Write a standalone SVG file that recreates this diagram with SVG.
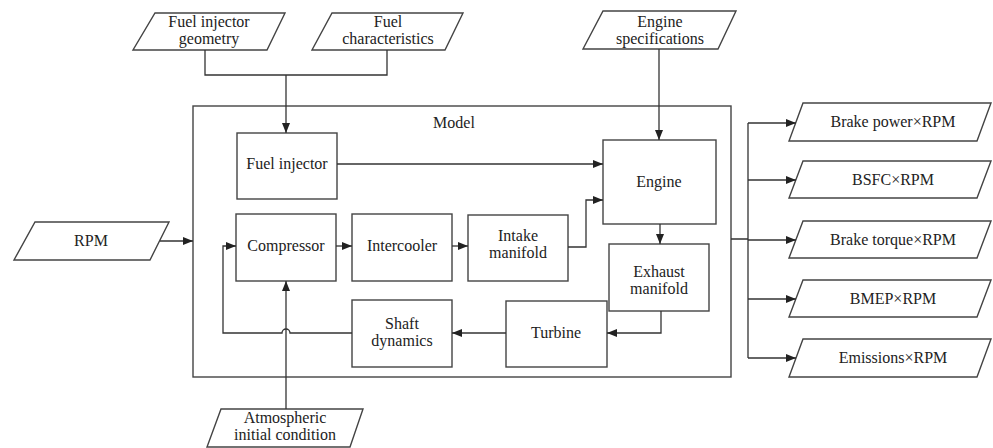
<svg xmlns="http://www.w3.org/2000/svg" width="993" height="448" viewBox="0 0 993 448">
<defs>
<marker id="ah" viewBox="0 0 10 8" refX="10" refY="4" markerWidth="10" markerHeight="8" markerUnits="userSpaceOnUse" orient="auto">
<path d="M0,0 L10,4 L0,8 z" fill="#222"/>
</marker>
<style>
.n{fill:#fff;stroke:#444;stroke-width:1.4}
.c{fill:none;stroke:#333;stroke-width:1.3}
.a{marker-end:url(#ah)}
text{font-family:'Liberation Serif','DejaVu Serif','Noto Serif',Times,serif;font-size:16px;fill:#222;text-anchor:middle}
</style>
</defs>
<rect width="993" height="448" fill="#fff"/>
<g id="model"><rect class="n" x="193" y="106" width="538" height="271"/><text x="454" y="128">Model</text></g>
<g id="fuel-injector-geometry"><polygon class="n" points="155,13 285,13 267,50 133,50"/><text x="209" y="27">Fuel injector</text><text x="209" y="44">geometry</text></g>
<g id="fuel-characteristics"><polygon class="n" points="332,13 463,13 445,50 312,50"/><text x="388" y="27">Fuel</text><text x="388" y="44">characteristics</text></g>
<g id="engine-specifications"><polygon class="n" points="603,11 736,11 718,49 583,49"/><text x="660" y="27">Engine</text><text x="660" y="44">specifications</text></g>
<g id="rpm"><polygon class="n" points="35,222 169,222 150,260 14,260"/><text x="91" y="246">RPM</text></g>
<g id="atmospheric"><polygon class="n" points="221,409 363,409 350,447 207,447"/><text x="285" y="423">Atmospheric</text><text x="285" y="440">initial condition</text></g>
<g id="fuel-injector"><rect class="n" x="237" y="133" width="100" height="66"/><text x="287" y="169">Fuel injector</text></g>
<g id="compressor"><rect class="n" x="236" y="214" width="100" height="67"/><text x="286" y="251">Compressor</text></g>
<g id="intercooler"><rect class="n" x="352" y="214" width="100" height="67"/><text x="402" y="251">Intercooler</text></g>
<g id="intake-manifold"><rect class="n" x="468" y="215" width="100" height="66"/><text x="518" y="241">Intake</text><text x="518" y="258">manifold</text></g>
<g id="engine"><rect class="n" x="603" y="140" width="113" height="84"/><text x="659" y="187">Engine</text></g>
<g id="exhaust-manifold"><rect class="n" x="609" y="244" width="100" height="67"/><text x="659" y="277">Exhaust</text><text x="659" y="294">manifold</text></g>
<g id="turbine"><rect class="n" x="506" y="301" width="101" height="66"/><text x="556" y="338">Turbine</text></g>
<g id="shaft-dynamics"><rect class="n" x="352" y="300" width="100" height="67"/><text x="402" y="329">Shaft</text><text x="402" y="346">dynamics</text></g>
<g id="out1"><polygon class="n" points="803,103 991,103 977,141 789,141"/><text x="893" y="127">Brake power×RPM</text></g>
<g id="out2"><polygon class="n" points="803,161 991,161 977,198 789,198"/><text x="893" y="185">BSFC×RPM</text></g>
<g id="out3"><polygon class="n" points="803,221 991,221 977,258 789,258"/><text x="893" y="245">Brake torque×RPM</text></g>
<g id="out4"><polygon class="n" points="803,280 991,280 977,317 789,317"/><text x="893" y="304">BMEP×RPM</text></g>
<g id="out5"><polygon class="n" points="803,339 991,339 977,377 789,377"/><text x="893" y="363">Emissions×RPM</text></g>
<g id="connectors">
<path class="c" d="M205,50 V75 H387 V50"/>
<path class="c a" d="M286,75 V133"/>
<path class="c a" d="M659,49 V140"/>
<path class="c a" d="M337,164 H603"/>
<path class="c a" d="M568,247 H586 V200 H603"/>
<path class="c a" d="M336,246 H352"/>
<path class="c a" d="M452,246 H468"/>
<path class="c a" d="M660,224 V244"/>
<path class="c a" d="M661,311 V333 H607"/>
<path class="c a" d="M506,333 H452"/>
<path class="c a" d="M352,333 H290 A4,4 0 0 0 282,333 H223 V246 H236"/>
<path class="c a" d="M286,409 V281"/>
<path class="c a" d="M160,241 H193"/>
<path class="c" d="M731,239 H748 M748,123 V358"/>
<path class="c a" d="M748,123 H796"/>
<path class="c a" d="M748,180 H796"/>
<path class="c a" d="M748,240 H796"/>
<path class="c a" d="M748,299 H796"/>
<path class="c a" d="M748,358 H796"/>
</g>
</svg>
